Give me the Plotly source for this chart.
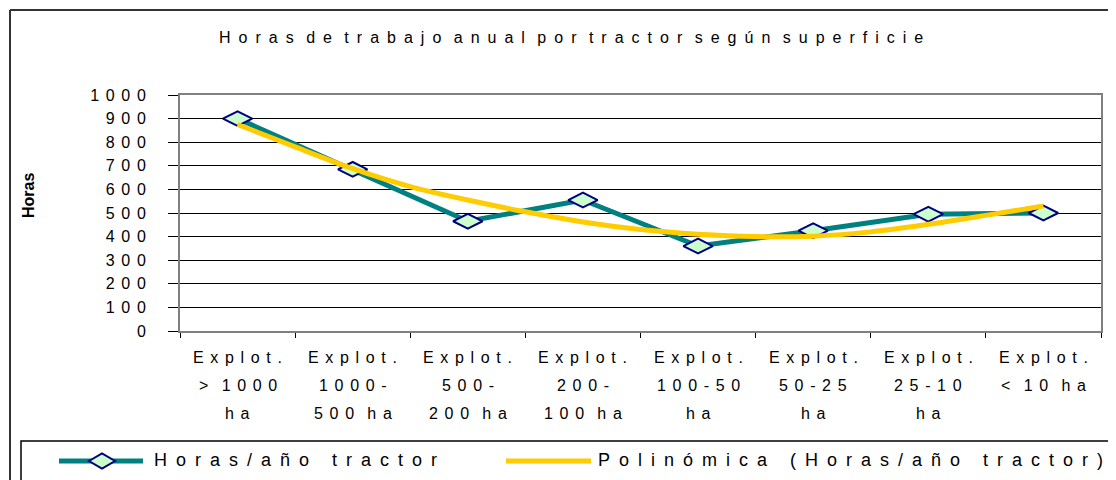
import plotly.graph_objects as go

# ---------------- data ----------------
categories = [1, 2, 3, 4, 5, 6, 7, 8]
cat_labels = [
    ["Explot.", "> 1000", "ha"],
    ["Explot.", "1000-", "500 ha"],
    ["Explot.", "500-", "200 ha"],
    ["Explot.", "200-", "100 ha"],
    ["Explot.", "100-50", "ha"],
    ["Explot.", "50-25", "ha"],
    ["Explot.", "25-10", "ha"],
    ["Explot.", "< 10 ha"],
]
hours = [900, 685, 465, 555, 360, 425, 495, 500]

trend_x = [1, 1.5, 2, 2.5, 3, 3.5, 4, 4.5, 5, 5.5, 6, 6.5, 7, 7.5, 8]
trend_y = [875, 780, 688, 612, 555, 505, 462, 430, 410, 400, 402, 420, 452, 490, 530]

y_ticks = [0, 100, 200, 300, 400, 500, 600, 700, 800, 900, 1000]

title_text = "Horas de trabajo anual por tractor según superficie"
series_name = "Horas/año tractor"
trend_name = "Polinómica (Horas/año tractor)"
y_title = "Horas"

# ---------------- styling ----------------
OFF = 8                      # page body margin in the browser
W, H = 1116 - OFF, 480 - OFF
PL, PR, PT, PB = 180, 1101, 95, 331   # plot area in page pixels
ML, MT = PL - OFF, PT - OFF
MR, MB = W - (PR - OFF), H - (PB - OFF)
PW, PH = PR - PL, PB - PT
FONT = "Liberation Sans, Arial, sans-serif"
TEAL, GOLD, NAVY, MINT = "#008080", "#FFCC00", "#000080", "#CCFFCC"
AXGAP = "\u2005\u2006"


def spaced(s, gap="\u2002", wgap="\u2002\u2002"):
    return wgap.join(gap.join(w) for w in s.split(" "))


def pxx(px):
    return (px - PL) / PW


def pyy(py):
    return (PB - py) / PH


fig = go.Figure()

fig.add_trace(go.Scatter(
    x=categories, y=hours, mode="lines+markers", name=series_name,
    line=dict(color=TEAL, width=5),
    marker=dict(symbol="diamond-wide", size=21, color=MINT,
                line=dict(color=NAVY, width=2)),
    showlegend=False,
))
fig.add_trace(go.Scatter(
    x=trend_x, y=trend_y, mode="lines", name=trend_name,
    line=dict(color=GOLD, width=5, shape="spline"),
    showlegend=False,
))

annotations = []
# category labels (three lines each, Excel-like spacing)
line_offsets = [-26, -54, -82]
for cx, lines in zip(categories, cat_labels):
    for i, t in enumerate(lines):
        annotations.append(dict(
            x=cx, xref="x", y=0, yref="paper", yshift=line_offsets[i],
            text=spaced(t, gap=AXGAP, wgap=AXGAP + AXGAP), showarrow=False,
            xanchor="center", yanchor="middle",
            font=dict(family=FONT, size=16, color="#000"),
        ))

# title
annotations.append(dict(
    x=pxx(571), xref="paper", y=pyy(37), yref="paper",
    text=spaced(title_text, wgap="\u2002 "),
    showarrow=False, xanchor="center", yanchor="middle",
    font=dict(family=FONT, size=16, color="#000"),
))
# y title
annotations.append(dict(
    x=pxx(28), xref="paper", y=pyy(196), yref="paper", text="<b>" + y_title + "</b>",
    textangle=-90, showarrow=False, xanchor="center", yanchor="middle",
    font=dict(family=FONT, size=16, color="#000"),
))
# legend texts
annotations.append(dict(
    x=pxx(152), xref="paper", y=pyy(460), yref="paper",
    text=spaced(series_name, wgap="\u2002\u2002 "),
    showarrow=False, xanchor="left", yanchor="middle",
    font=dict(family=FONT, size=18, color="#000"),
))
annotations.append(dict(
    x=pxx(596), xref="paper", y=pyy(460), yref="paper",
    text=spaced(trend_name, wgap="\u2002\u2002 "),
    showarrow=False, xanchor="left", yanchor="middle",
    font=dict(family=FONT, size=18, color="#000"),
))

shapes = []
# outer chart frame (left and top edges visible)
shapes.append(dict(type="line", xref="paper", yref="paper",
                   x0=pxx(10), y0=pyy(10), x1=pxx(10), y1=pyy(490),
                   line=dict(color="#333333", width=2)))
shapes.append(dict(type="line", xref="paper", yref="paper",
                   x0=pxx(10), y0=pyy(10), x1=pxx(1130), y1=pyy(10),
                   line=dict(color="#333333", width=2)))
# legend box
shapes.append(dict(type="rect", xref="paper", yref="paper",
                   x0=pxx(21), y0=pyy(441), x1=pxx(1130), y1=pyy(495),
                   line=dict(color="#000000", width=1.5), fillcolor="rgba(0,0,0,0)"))
# legend glyphs
shapes.append(dict(type="line", xref="paper", yref="paper",
                   x0=pxx(59), y0=pyy(461), x1=pxx(143), y1=pyy(461),
                   line=dict(color=TEAL, width=5)))
cx, cy, hw, hh = 102, 461, 13, 7.5
shapes.append(dict(type="path", xref="paper", yref="paper",
                   path=("M {:.5f},{:.5f} L {:.5f},{:.5f} L {:.5f},{:.5f} L {:.5f},{:.5f} Z").format(
                       pxx(cx - hw), pyy(cy), pxx(cx), pyy(cy - hh),
                       pxx(cx + hw), pyy(cy), pxx(cx), pyy(cy + hh)),
                   fillcolor=MINT, line=dict(color=NAVY, width=2)))
shapes.append(dict(type="line", xref="paper", yref="paper",
                   x0=pxx(506), y0=pyy(461), x1=pxx(591), y1=pyy(461),
                   line=dict(color=GOLD, width=5)))

fig.update_layout(
    width=W, height=H,
    margin=dict(l=ML, r=MR, t=MT, b=MB),
    paper_bgcolor="#ffffff", plot_bgcolor="#ffffff",
    font=dict(family=FONT, size=15, color="#000"),
    showlegend=False,
    annotations=annotations,
    shapes=shapes,
)
fig.update_xaxes(
    range=[0.5, 8.5], tickvals=[c - 0.5 for c in categories] + [8.5],
    showticklabels=False, ticks="outside", ticklen=5, tickcolor="#000",
    showgrid=False, zeroline=False,
    showline=True, linecolor="#808080", linewidth=2, mirror=True,
)
fig.update_yaxes(
    range=[0, 1000], tickvals=y_ticks,
    ticktext=[spaced(str(v), gap=AXGAP) for v in y_ticks],
    ticks="outside", ticklen=10, tickcolor="#000", ticklabelstandoff=19,
    tickfont=dict(family=FONT, size=16, color="#000"),
    showgrid=True, gridcolor="#000000", gridwidth=1, zeroline=False,
    showline=True, linecolor="#808080", linewidth=2, mirror=True,
)

fig.write_html("out.html")
